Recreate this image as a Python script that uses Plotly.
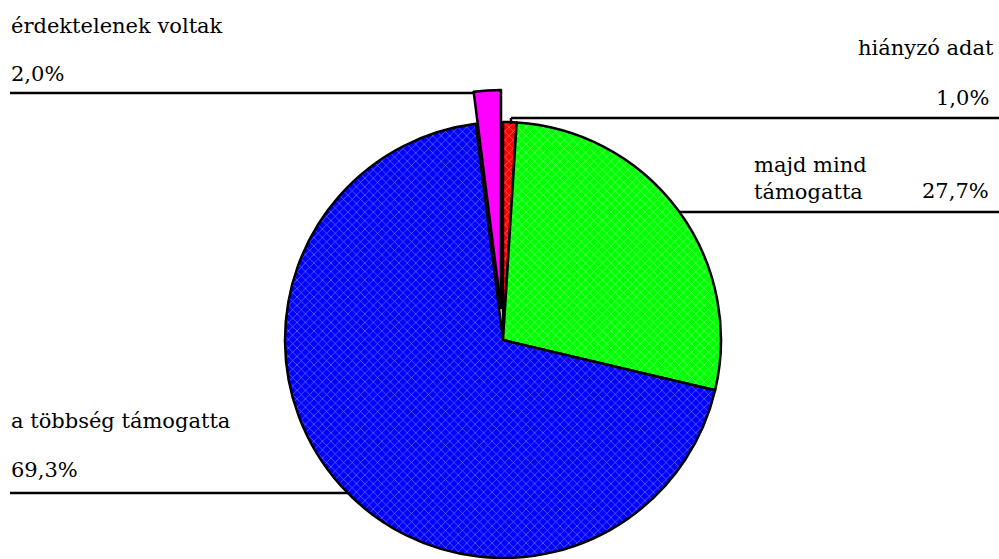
import plotly.graph_objects as go

# ---- data ----
categories = ["hiányzó adat", "majd mind támogatta", "a többség támogatta", "érdektelenek voltak"]
values = [1.0, 27.7, 69.3, 2.0]
pct_labels = ["1,0%", "27,7%", "69,3%", "2,0%"]
colors = ["#FF0000", "#00FF00", "#0000FF", "#FF00FF"]
patterns = ["x", "x", "x", ""]
exploded = [False, False, False, True]

W, H = 999, 559
CLEAR = "rgba(0,0,0,0)"

def px_dom(cx, cy, r):
    return dict(x=[(cx - r) / W, (cx + r) / W], y=[1 - (cy + r) / H, 1 - (cy - r) / H])

R = 218
main_cols = [CLEAR if e else c for c, e in zip(colors, exploded)]
main_line = [CLEAR if e else "black" for e in exploded]
exp_cols = [c if e else CLEAR for c, e in zip(colors, exploded)]
exp_line = ["black" if e else CLEAR for e in exploded]

fig = go.Figure()
fig.add_trace(go.Pie(
    labels=categories, values=values, sort=False, direction="clockwise", rotation=0,
    textinfo="none", hoverinfo="label+percent", showlegend=False,
    domain=px_dom(503, 340, R),
    marker=dict(colors=main_cols, line=dict(color=main_line, width=2.5),
                pattern=dict(shape=patterns, fillmode="overlay", fgcolor="white",
                             size=6, solidity=0.2)),
))
fig.add_trace(go.Pie(
    labels=categories, values=values, sort=False, direction="clockwise", rotation=0,
    textinfo="none", hoverinfo="skip", showlegend=False,
    domain=px_dom(501, 308, R),
    marker=dict(colors=exp_cols, line=dict(color=exp_line, width=2.5)),
))

FONT = dict(family="DejaVu Serif", size=21, color="#000000")

def ann(text, x, y, anchor, align="left"):
    fig.add_annotation(text=text, x=x / W, y=1 - y / H, xref="paper", yref="paper",
                       xanchor=anchor, yanchor="middle", showarrow=False, font=FONT,
                       align=align, borderpad=0)

ann(categories[3], 10, 26, "left")
ann(pct_labels[3], 10, 74, "left")
ann(categories[0], 995, 48, "right")
ann(pct_labels[0], 990, 98, "right")
ann("majd mind<br>támogatta", 753, 178, "left")
ann(pct_labels[1], 990, 191, "right")
ann(categories[2], 10, 421, "left")
ann(pct_labels[2], 10, 470, "left")

def hline(x0, y0, x1, y1):
    fig.add_shape(type="line", xref="paper", yref="paper",
                  x0=x0 / W, y0=1 - y0 / H, x1=x1 / W, y1=1 - y1 / H,
                  line=dict(color="black", width=2.5))

hline(10, 93, 474, 93)
hline(511, 118, 999, 118)
hline(511, 118, 511, 124)
hline(680, 212, 999, 212)
hline(10, 493, 348, 493)

fig.update_layout(width=W, height=H, margin=dict(l=0, r=0, t=0, b=0),
                  paper_bgcolor="white", plot_bgcolor="white")
fig.write_html("out.html")
